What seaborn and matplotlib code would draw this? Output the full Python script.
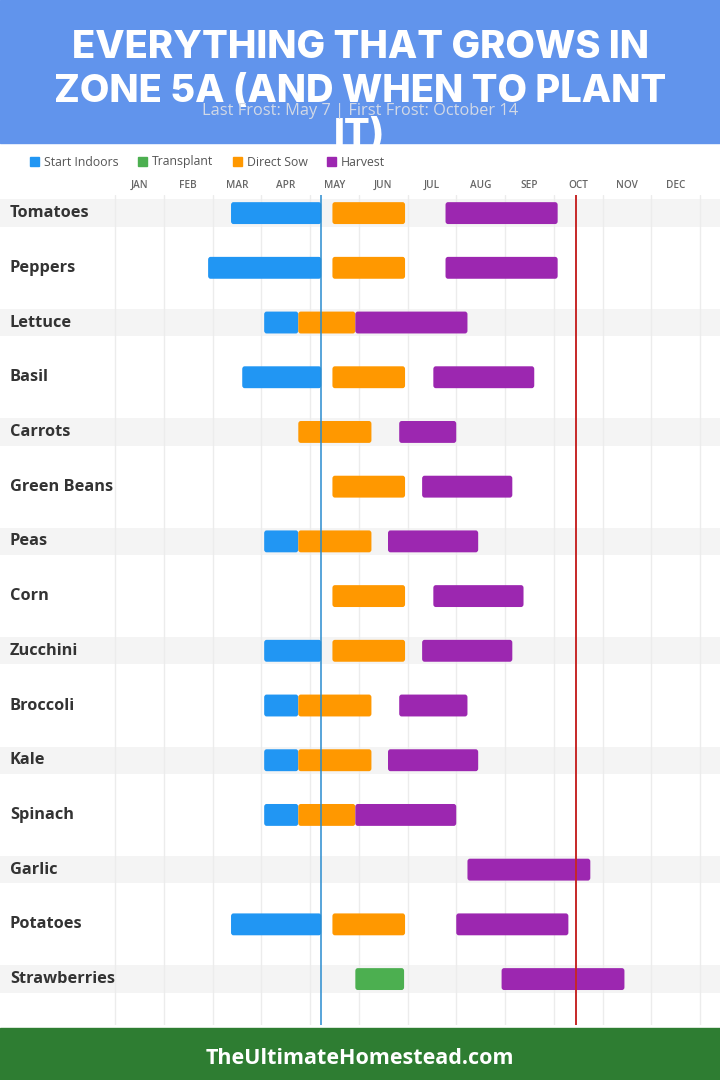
import numpy as np
import pandas as pd
import seaborn as sns
import matplotlib
matplotlib.use("Agg")
import matplotlib.pyplot as plt
from matplotlib.patches import Patch, Rectangle, FancyBboxPatch

nan = np.nan

# months are measured from Jan 1 (0) to Dec 31 (12)
months = ["JAN", "FEB", "MAR", "APR", "MAY", "JUN", "JUL", "AUG", "SEP", "OCT", "NOV", "DEC"]
crops = ["Tomatoes", "Peppers", "Lettuce", "Basil", "Carrots", "Green Beans", "Peas", "Corn",
         "Zucchini", "Broccoli", "Kale", "Spinach", "Garlic", "Potatoes", "Strawberries"]

indoor_start = [2.38, 1.91, 3.06, 2.61, nan, nan, 3.06, nan, 3.06, 3.06, 3.06, 3.06, nan, 2.38, nan]
indoor_end = [4.23, 4.23, 3.76, 4.23, nan, nan, 3.76, nan, 4.23, 3.76, 3.76, 3.76, nan, 4.23, nan]
transplant_start = [nan] * 14 + [4.93]
transplant_end = [nan] * 14 + [5.93]
sow_start = [4.46, 4.46, 3.76, 4.46, 3.76, 4.46, 3.76, 4.46, 4.46, 3.76, 3.76, 3.76, nan, 4.46, nan]
sow_end = [5.95, 5.95, 4.93, 5.95, 5.26, 5.95, 5.26, 5.95, 5.95, 5.26, 5.26, 4.93, nan, 5.95, nan]
harvest_start = [6.78, 6.78, 4.93, 6.53, 5.83, 6.30, 5.60, 6.53, 6.30, 5.83, 5.60, 4.93, 7.23, 7.00, 7.93]
harvest_end = [9.08, 9.08, 7.23, 8.60, 7.00, 8.15, 7.45, 8.38, 8.15, 7.23, 7.45, 7.00, 9.75, 9.30, 10.45]

stages = ["Start Indoors", "Transplant", "Direct Sow", "Harvest"]
stage_colors = {"Start Indoors": "#2196F3", "Transplant": "#4CAF50",
                "Direct Sow": "#FF9800", "Harvest": "#9C27B0"}

last_frost = 4.23   # May 7
first_frost = 9.45  # October 14

# long table of segments
rows = []
for stage, s, e in [("Start Indoors", indoor_start, indoor_end),
                    ("Transplant", transplant_start, transplant_end),
                    ("Direct Sow", sow_start, sow_end),
                    ("Harvest", harvest_start, harvest_end)]:
    for i, crop in enumerate(crops):
        if not np.isnan(s[i]):
            rows.append({"crop": crop, "row": i, "stage": stage, "start": s[i], "end": e[i]})
df = pd.DataFrame(rows)

sns.set_theme(style="white")
plt.rcParams["font.family"] = ["Open Sans", "DejaVu Sans"]

fig = plt.figure(figsize=(7.2, 10.8), dpi=100)
fig.patch.set_facecolor("white")

# header / footer
fig.patches.append(Rectangle((0, 1 - 143 / 1080), 1, 143 / 1080, transform=fig.transFigure,
                             color="#6194ec", zorder=0))
fig.patches.append(Rectangle((0, 0), 1, 52 / 1080, transform=fig.transFigure,
                             color="#2e7d32", zorder=0))

ax = fig.add_axes([0, 0.0509, 1, 0.7685])
ax.set_xlim(-115 / 48.75, 605 / 48.75)
ax.set_ylim(14.84, -0.33)

# alternating row bands
for i in range(0, len(crops), 2):
    ax.axhspan(i - 0.25, i + 0.25, color="#f4f4f4", zorder=0, lw=0)

# month grid + labels
ax.set_xticks(np.arange(13), minor=True)
ax.set_xticks(np.arange(12) + 0.5)
ax.set_xticklabels(months, fontsize=7.2, color="#666666", fontweight="semibold")
ax.xaxis.tick_top()
ax.tick_params(axis="x", which="both", length=0, pad=3)
ax.grid(which="minor", axis="x", color="#ececec", lw=1)
ax.set_yticks([])
for sp in ax.spines.values():
    sp.set_visible(False)

# bars
bars = ax.barh(df["row"], df["end"] - df["start"], left=df["start"], height=0.40,
               color=df["stage"].map(stage_colors), zorder=3)
for b in bars:
    x, y = b.get_xy()
    fb = FancyBboxPatch((x, y), b.get_width(), b.get_height(),
                        boxstyle="round,pad=0,rounding_size=0.05",
                        fc=b.get_facecolor(), ec="none", zorder=3)
    b.remove()
    ax.add_patch(fb)

ax.axvline(last_frost, color="#2a8ccf", lw=1.1, zorder=4)
ax.axvline(first_frost, color="#c62828", lw=1.4, zorder=4)

# crop names
for i, crop in enumerate(crops):
    ax.text(-2.155, i, crop, ha="left", va="center", fontsize=11.8, fontweight="bold",
            color="#333333")

# legend
handles = [Patch(color=stage_colors[s], label=s) for s in stages]
leg = fig.legend(handles=handles, loc="center left", bbox_to_anchor=(0.041, 1 - 162 / 1080),
                 ncol=4, frameon=False, fontsize=8.8, handlelength=0.75, handleheight=0.75,
                 handletextpad=0.4, columnspacing=1.6, borderaxespad=0, borderpad=0)
for t in leg.get_texts():
    t.set_color("#555555")

# title
fig.text(0.5, 1 - 92 / 1080, "EVERYTHING THAT GROWS IN\nZONE 5A (AND WHEN TO PLANT\nIT)",
         ha="center", va="center", fontsize=27.5, fontweight="heavy", color="white",
         linespacing=1.28, zorder=5, family=["Inter", "DejaVu Sans"])
fig.text(0.5, 1 - 111 / 1080, "Last Frost: May 7 | First Frost: October 14",
         ha="center", va="center", fontsize=11.8, color="#d2d9e6", zorder=6)

fig.text(0.5, 1 - 1058 / 1080, "TheUltimateHomestead.com", ha="center", va="center",
         fontsize=15.5, fontweight="bold", color="white")

fig.savefig("out.png", dpi=100)
